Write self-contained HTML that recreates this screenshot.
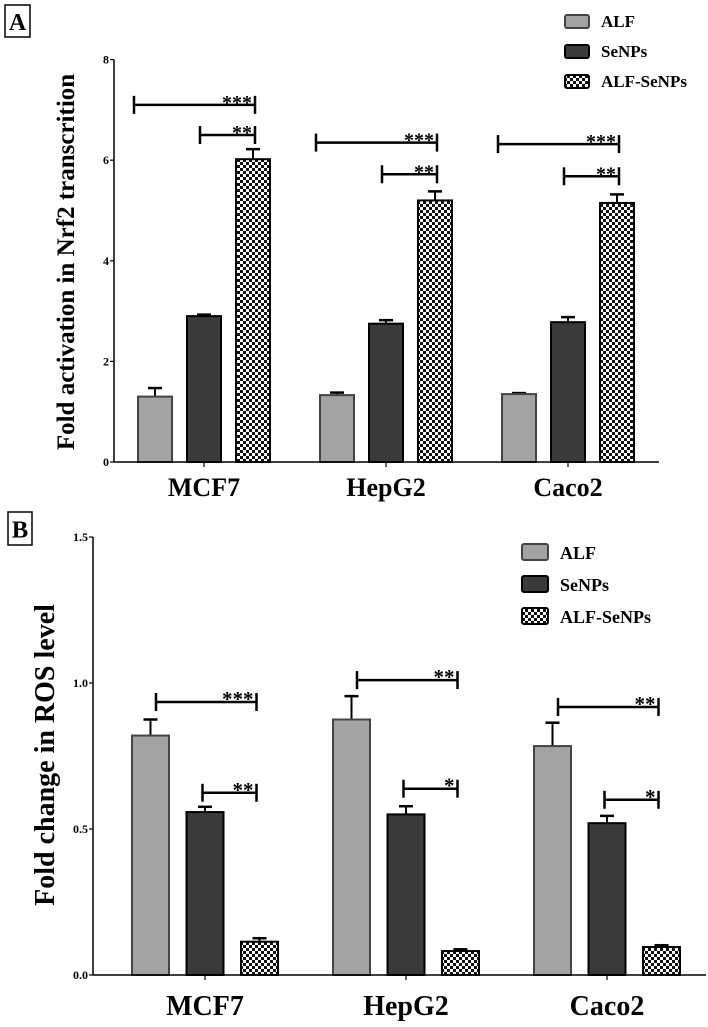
<!DOCTYPE html>
<html><head><meta charset="utf-8">
<style>
html,body{margin:0;padding:0;background:#fff;}
svg{display:block;font-family:"Liberation Serif",serif;font-weight:bold;}
</style></head>
<body>
<svg id="fig" width="708" height="1027" viewBox="0 0 708 1027">
<defs>
<pattern id="chk" width="6" height="6" patternUnits="userSpaceOnUse">
<rect width="6" height="6" fill="#fff"/>
<rect width="3" height="3" fill="#111"/><rect x="3" y="3" width="3" height="3" fill="#111"/>
</pattern>
</defs>
</svg>
<script>
const categories = ["MCF7","HepG2","Caco2"];
const seriesNames = ["ALF","SeNPs","ALF-SeNPs"];
// Panel A
const aALF = [1.30, 1.33, 1.35];
const aSeNPs = [2.90, 2.75, 2.78];
const aALFSeNPs = [6.02, 5.20, 5.15];
const aErrALF = [0.17, 0.05, 0.02];
const aErrSeNPs = [0.03, 0.07, 0.10];
const aErrALFSeNPs = [0.20, 0.18, 0.17];
const aTicks = [0, 2, 4, 6, 8];
const aTickLabels = ["0","2","4","6","8"];
// brackets: [category, fromSeries, toSeries, yValue, stars]
const aBrackets = [[0,0,2,7.1,"***"],[0,1,2,6.5,"**"],[1,0,2,6.35,"***"],[1,1,2,5.72,"**"],[2,0,2,6.32,"***"],[2,1,2,5.68,"**"]];
// Panel B
const bALF = [0.82, 0.875, 0.784];
const bSeNPs = [0.558, 0.55, 0.52];
const bALFSeNPs = [0.114, 0.082, 0.096];
const bErrALF = [0.055, 0.08, 0.08];
const bErrSeNPs = [0.018, 0.028, 0.025];
const bErrALFSeNPs = [0.012, 0.006, 0.006];
const bTicks = [0, 0.5, 1.0, 1.5];
const bTickLabels = ["0.0","0.5","1.0","1.5"];
const bBrackets = [[0,0,2,0.935,"***"],[0,1,2,0.624,"**"],[1,0,2,1.01,"**"],[1,1,2,0.638,"*"],[2,0,2,0.918,"**"],[2,1,2,0.60,"*"]];

const NS="http://www.w3.org/2000/svg";
const svg=document.getElementById('fig');
function mk(tag,attrs,parent,text){const e=document.createElementNS(NS,tag);for(const k in attrs)e.setAttribute(k,attrs[k]);if(text!==undefined)e.textContent=text;(parent||svg).appendChild(e);return e;}
const fills=["#a3a3a3","#3a3a3a","url(#chk)"];
const strokes=["#444","#000","#000"];

function panel(cfg){
  const g=mk('g',{});
  
  
  const y=v=>cfg.y0-(v-cfg.vmin)*cfg.ppu;
  const barX=(c,s)=>cfg.g0+c*cfg.gstep+s*cfg.bstep;
  const lb=mk('g',{},g);
  
  
  mk('rect',{x:cfg.box[0],y:cfg.box[1],width:cfg.box[2],height:cfg.box[3],fill:'#fff',stroke:'#000','stroke-width':1.5},lb);
  mk('text',{x:cfg.box[0]+cfg.box[2]/2,y:cfg.box[1]+cfg.box[3]*0.78,'text-anchor':'middle','font-size':cfg.box[3]*0.75},lb,cfg.letter);
  const vals=cfg.vals, errs=cfg.errs;
  for(let s=0;s<3;s++)for(let c=0;c<3;c++){
    const x=barX(c,s), top=y(vals[s][c]), et=y(vals[s][c]+errs[s][c]);
    const e=mk('line',{x1:x+cfg.bw/2,x2:x+cfg.bw/2,y1:top,y2:et,stroke:'#000','stroke-width':2},g);
    
    
    mk('line',{x1:x+cfg.bw/2-7,x2:x+cfg.bw/2+7,y1:et,y2:et,stroke:'#000','stroke-width':2.5},g);
    const r=mk('rect',{x:x,y:top,width:cfg.bw,height:cfg.y0-top,fill:fills[s],stroke:strokes[s],'stroke-width':2},g);
    
    
  }
  const ya=mk('line',{x1:cfg.ax,x2:cfg.ax,y1:y(cfg.ticks[cfg.ticks.length-1]),y2:cfg.y0,stroke:'#000','stroke-width':1.5},g);
  
  
  const xa=mk('line',{x1:cfg.ax,x2:cfg.axEnd,y1:cfg.y0,y2:cfg.y0,stroke:'#000','stroke-width':1.5},g);
  
  
  cfg.ticks.forEach((t,i)=>{
    mk('line',{x1:cfg.ax-4,x2:cfg.ax,y1:y(t),y2:y(t),stroke:'#000','stroke-width':1.2},g);
    const tl=mk('text',{x:cfg.ax-5,y:y(t)+4,'text-anchor':'end','font-size':cfg.tickFs},g,cfg.tickLabels[i]);
    
    
  });
  categories.forEach((cat,c)=>{
    const cx=barX(c,1)+cfg.bw/2;
    mk('line',{x1:cx,x2:cx,y1:cfg.y0,y2:cfg.y0+5,stroke:'#000','stroke-width':1.2},g);
    const t=mk('text',{x:cx,y:cfg.catY,'text-anchor':'middle','font-size':cfg.catFs},g,cat);
    
    
  });
  const yt=mk('text',{x:0,y:0,'text-anchor':'middle','font-size':cfg.titleFs,transform:`translate(${cfg.titleX},${cfg.titleY}) rotate(-90)`},g,cfg.title);
  
  
  cfg.brackets.forEach(b=>{
    const xl=barX(b[0],b[1])+cfg.bl[b[1]];
    const xr=barX(b[0],b[2])+cfg.bw/2+cfg.br, yy=y(b[3]);
    const bg=mk('g',{},g);
    
    
    mk('line',{x1:xl,x2:xr,y1:yy,y2:yy,stroke:'#000','stroke-width':2.5},bg);
    mk('line',{x1:xl,x2:xl,y1:yy-9,y2:yy+9,stroke:'#000','stroke-width':2.5},bg);
    mk('line',{x1:xr,x2:xr,y1:yy-9,y2:yy+9,stroke:'#000','stroke-width':2.5},bg);
    mk('text',{x:xr-3,y:yy+4,'text-anchor':'end','font-size':cfg.starFs},bg,b[4]);
  });
  seriesNames.forEach((n,i)=>{
    const lg=mk('g',{},g);
    
    
    const ly=cfg.legY+i*cfg.legStep;
    mk('rect',{x:cfg.legX,y:ly,width:cfg.legW,height:cfg.legH,rx:2,fill:fills[i],stroke:strokes[i],'stroke-width':2},lg);
    mk('text',{x:cfg.legX+cfg.legW+12,y:ly+cfg.legH-1,'font-size':cfg.legFs},lg,n);
  });
}

panel({name:'panel-a',letter:'A',box:[5,5,25,32],vals:[aALF,aSeNPs,aALFSeNPs],errs:[aErrALF,aErrSeNPs,aErrALFSeNPs],
  ticks:aTicks,tickLabels:aTickLabels,brackets:aBrackets,vmin:0,y0:462,ppu:50.3,ax:114,axEnd:659,
  g0:138,gstep:182,bstep:49,bw:34,tickFs:12,catY:496,catFs:26,title:'Fold activation in Nrf2 transcrition',
  titleX:74,titleY:262,titleFs:25,starFs:20,bl:[-4,13],br:2,legX:565,legY:15,legStep:30,legW:24,legH:13,legFs:17});
panel({name:'panel-b',letter:'B',box:[8,512,24,33],vals:[bALF,bSeNPs,bALFSeNPs],errs:[bErrALF,bErrSeNPs,bErrALFSeNPs],
  ticks:bTicks,tickLabels:bTickLabels,brackets:bBrackets,vmin:0,y0:975,ppu:292,ax:93,axEnd:706,
  g0:132,gstep:201,bstep:54.5,bw:37,tickFs:12,catY:1015,catFs:28,title:'Fold change in ROS level',
  titleX:54,titleY:755,titleFs:28,starFs:21,bl:[24,16],br:-3,legX:522,legY:544,legStep:32,legW:26,legH:16,legFs:18});
</script>
</body></html>
